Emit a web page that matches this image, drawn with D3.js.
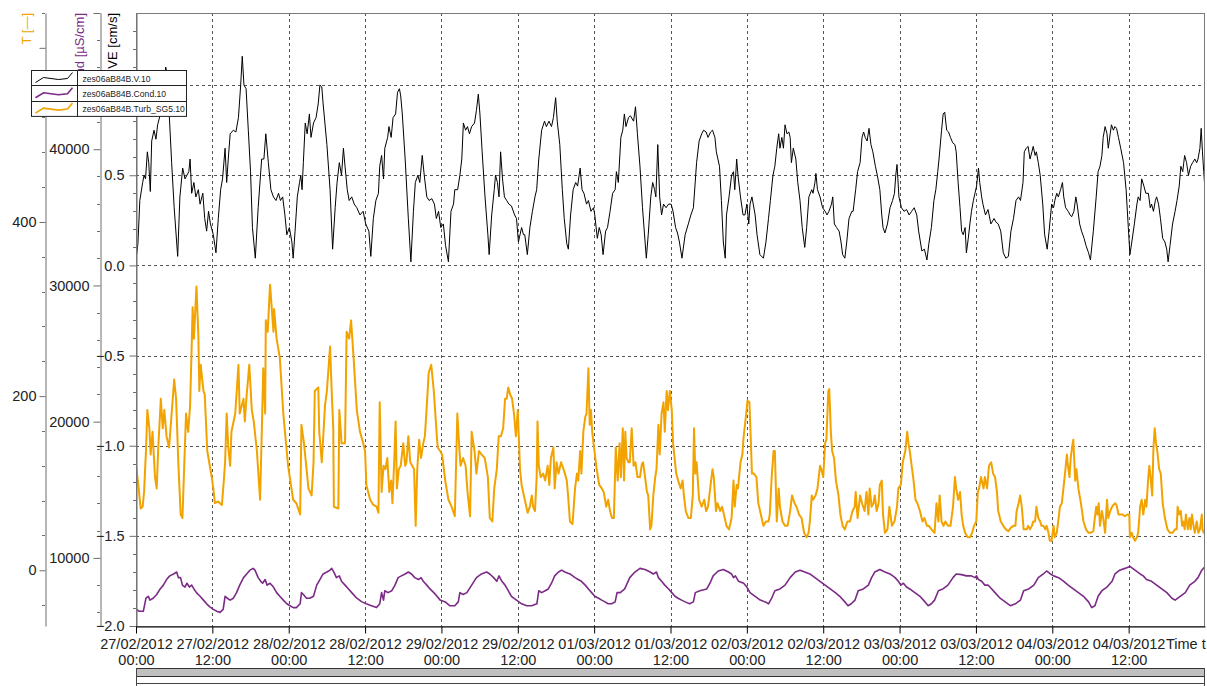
<!DOCTYPE html>
<html>
<head>
<meta charset="utf-8">
<script src="https://cdn.jsdelivr.net/npm/d3@7"></script>
<style>
body { margin: 0; background: #fff; }
svg { display: block; font-family: "Liberation Sans", Arial, sans-serif; }
</style>
</head>
<body>
<svg id="chart" width="1207" height="686"></svg>
<script>
const startTime = new Date(2012, 1, 27, 0, 0);
const endTime = new Date(2012, 2, 5, 0, 0);

// [hours since 27/02/2012 00:00, value]
const velocity = [[0,0.03],[0.3,0.12],[0.6,0.36],[1.05,0.46],[1.26,0.5],[1.5,0.48],[1.78,0.63],[2,0.57],[2.25,0.41],[2.46,0.69],[2.83,0.75],[3.14,0.7],[3.4,0.78],[3.77,0.83],[4.3,0.92],[4.66,1.1],[4.9,1.06],[5.24,0.83],[5.6,0.57],[6,0.32],[6.55,0.05],[6.9,0.38],[7.33,0.54],[7.7,0.48],[8,0.5],[8.3,0.52],[8.5,0.59],[8.75,0.4],[9.1,0.46],[9.4,0.38],[9.8,0.42],[10.06,0.34],[10.5,0.4],[10.8,0.26],[11.1,0.19],[11.4,0.3],[11.7,0.23],[12.15,0.17],[12.57,0.07],[12.94,0.26],[13.3,0.42],[13.6,0.48],[14,0.65],[14.25,0.46],[14.5,0.59],[14.8,0.73],[15.3,0.75],[15.7,0.74],[16.1,0.82],[16.45,1],[16.7,1.16],[16.97,1],[17.3,0.98],[17.65,0.75],[18,0.52],[18.3,0.21],[18.75,0.04],[19.2,0.32],[19.75,0.59],[20.1,0.59],[20.4,0.73],[20.8,0.57],[21.2,0.42],[21.6,0.38],[22,0.36],[22.4,0.4],[22.7,0.36],[23.05,0.38],[23.4,0.28],[23.7,0.17],[24.1,0.21],[24.5,0.13],[24.7,0.04],[25,0.19],[25.35,0.38],[25.7,0.46],[25.9,0.5],[26.1,0.42],[26.3,0.57],[26.6,0.79],[26.9,0.73],[27.25,0.84],[27.5,0.71],[27.9,0.79],[28.3,0.82],[28.65,0.9],[28.9,1],[29.2,0.99],[29.4,0.9],[30,0.67],[30.5,0.42],[30.9,0.09],[31.3,0.32],[31.6,0.46],[31.95,0.57],[32.3,0.5],[32.6,0.65],[32.85,0.55],[33.2,0.42],
[33.5,0.36],[33.9,0.38],[34.3,0.34],[34.7,0.32],[35.2,0.28],[35.7,0.3],[36.1,0.23],[36.6,0.19],[36.9,0.05],[37.3,0.26],[37.7,0.36],[38.1,0.4],[38.3,0.55],[38.6,0.61],[38.9,0.48],[39.1,0.65],[39.55,0.71],[39.75,0.77],[40.1,0.71],[40.4,0.82],[40.8,0.84],[41.1,0.96],[41.4,0.98],[41.6,0.94],[41.85,0.84],[42.3,0.59],[42.8,0.26],[43.2,0.02],[43.6,0.3],[43.9,0.46],[44.3,0.5],[44.6,0.46],[44.98,0.61],[45.3,0.5],[45.7,0.38],[46.05,0.36],[46.5,0.37],[46.9,0.34],[47.2,0.26],[47.55,0.3],[47.9,0.21],[48.3,0.23],[48.65,0.11],[49.1,0.02],[49.5,0.3],[49.9,0.34],[50.1,0.42],[50.55,0.42],[50.9,0.5],[51.2,0.59],[51.45,0.79],[51.8,0.75],[52.1,0.77],[52.4,0.73],[52.75,0.77],[53.2,0.79],[53.5,0.86],[53.8,0.95],[54.05,0.84],[54.4,0.63],[54.85,0.38],[55.3,0.17],[55.5,0.06],[55.9,0.28],[56.3,0.42],[56.5,0.5],[56.8,0.46],[57.05,0.38],[57.3,0.63],[57.6,0.48],[57.9,0.38],[58.25,0.36],[58.6,0.34],[59,0.33],[59.5,0.28],[59.8,0.26],[60.1,0.13],[60.35,0.17],[60.6,0.21],[60.9,0.17],[61.1,0.17],[61.5,0.06],[61.9,0.21],[62.3,0.3],[62.7,0.38],[62.97,0.42],[63.3,0.59],[63.75,0.75],[64.2,0.8],[64.5,0.77],[64.9,0.8],[65.3,0.77],[65.6,0.82],[65.95,0.93],[66.2,0.8],[66.6,0.67],[67,0.42],
[67.3,0.26],[67.7,0.12],[67.95,0.09],[68.3,0.28],[68.7,0.42],[69.1,0.46],[69.4,0.44],[69.8,0.54],[70.1,0.42],[70.4,0.4],[70.8,0.34],[71.1,0.36],[71.5,0.3],[71.9,0.32],[72.1,0.28],[72.5,0.15],[72.8,0.21],[73.1,0.17],[73.4,0.06],[73.8,0.19],[74.1,0.21],[74.5,0.3],[74.9,0.4],[75.3,0.42],[75.5,0.52],[75.8,0.46],[76.2,0.71],[76.5,0.75],[76.75,0.84],[77,0.77],[77.4,0.82],[77.7,0.83],[78.2,0.8],[78.5,0.88],[78.8,0.73],[79.2,0.55],[79.6,0.32],[80.2,0.04],[80.5,0.17],[80.9,0.38],[81.2,0.46],[81.5,0.42],[81.7,0.38],[82,0.67],[82.3,0.38],[82.6,0.28],[82.9,0.34],[83.3,0.32],[83.7,0.34],[84.1,0.34],[84.4,0.3],[84.8,0.21],[85.1,0.18],[85.4,0.13],[85.8,0.04],[86.3,0.17],[86.8,0.23],[87.2,0.28],[87.6,0.32],[88.1,0.57],[88.5,0.69],[88.9,0.73],[89.2,0.75],[89.6,0.74],[89.9,0.71],[90.3,0.74],[90.6,0.75],[90.99,0.71],[91.2,0.63],[91.7,0.55],[92,0.36],[92.3,0.13],[92.6,0.04],[92.8,0.28],[93.2,0.38],[93.6,0.5],[93.9,0.52],[94.1,0.42],[94.4,0.59],[94.6,0.5],[95,0.38],[95.4,0.28],[95.7,0.28],[96,0.34],[96.3,0.23],[96.5,0.34],[96.8,0.38],[97,0.34],[97.3,0.28],[97.6,0.17],[98.05,0.06],[98.6,0.04],[99,0.13],[99.4,0.26],[99.7,0.36],[100.1,0.5],[100.4,0.55],
[100.7,0.65],[101,0.73],[101.2,0.65],[101.5,0.71],[101.75,0.65],[102,0.78],[102.3,0.73],[102.6,0.74],[102.8,0.71],[103,0.57],[103.3,0.65],[103.7,0.59],[104,0.46],[104.35,0.36],[104.7,0.21],[105.1,0.1],[105.4,0.21],[105.75,0.38],[106.2,0.42],[106.4,0.4],[106.7,0.46],[106.85,0.51],[107.1,0.42],[107.5,0.38],[107.9,0.32],[108.3,0.3],[108.6,0.28],[108.9,0.3],[109.3,0.34],[109.5,0.38],[109.75,0.23],[110.1,0.21],[110.5,0.19],[110.8,0.13],[111.05,0.06],[111.4,0.04],[111.7,0.13],[112.05,0.26],[112.5,0.3],[112.7,0.3],[113.1,0.42],[113.4,0.52],[113.8,0.57],[114.1,0.71],[114.35,0.74],[114.6,0.71],[114.9,0.69],[115.2,0.76],[115.5,0.67],[115.8,0.63],[116.2,0.55],[116.5,0.5],[116.9,0.42],[117.2,0.28],[117.4,0.21],[117.7,0.18],[118.1,0.23],[118.5,0.32],[118.9,0.36],[119.2,0.4],[119.4,0.5],[119.6,0.56],[119.9,0.38],[120.3,0.32],[120.7,0.3],[121.1,0.31],[121.5,0.28],[121.9,0.3],[122.3,0.32],[122.7,0.28],[123,0.19],[123.5,0.08],[123.9,0.09],[124.3,0.03],[124.6,0.12],[125,0.21],[125.4,0.36],[125.7,0.42],[126,0.52],[126.2,0.59],[126.6,0.75],[126.85,0.84],[127.1,0.85],[127.4,0.75],[127.7,0.74],[128,0.71],[128.35,0.68],[128.7,0.67],[128.9,0.63],[129.2,0.46],[129.5,0.32],[129.75,0.19],[130,0.17],[130.3,0.21],[130.5,0.07],[130.8,0.15],[131.05,0.23],[131.3,0.3],[131.6,0.36],[131.85,0.4],[132.1,0.44],[132.4,0.54],[132.6,0.46],[132.9,0.38],[133.1,0.34],[133.5,0.28],[133.9,0.31],[134.35,0.23],
[134.85,0.26],[135.15,0.24],[135.5,0.23],[135.9,0.19],[136.3,0.07],[136.7,0.04],[137.1,0.05],[137.5,0.19],[137.9,0.26],[138.3,0.36],[138.7,0.38],[139,0.36],[139.4,0.46],[139.6,0.63],[139.9,0.65],[140.2,0.66],[140.5,0.59],[140.8,0.63],[141,0.66],[141.3,0.61],[141.5,0.63],[141.8,0.57],[142.1,0.5],[142.5,0.34],[142.8,0.17],[143.2,0.09],[143.5,0.19],[143.9,0.34],[144.2,0.32],[144.4,0.36],[144.7,0.4],[144.95,0.38],[145.3,0.42],[145.6,0.46],[145.8,0.38],[146.1,0.32],[146.5,0.3],[146.8,0.28],[147.05,0.27],[147.4,0.3],[147.7,0.38],[147.9,0.34],[148.3,0.23],[148.6,0.19],[149,0.15],[149.3,0.11],[149.7,0.07],[150,0.03],[150.45,0.19],[150.9,0.38],[151.2,0.52],[151.5,0.55],[151.8,0.61],[152,0.71],[152.3,0.77],[152.6,0.73],[152.8,0.65],[153.1,0.73],[153.3,0.78],[153.6,0.75],[153.85,0.77],[154.1,0.76],[154.4,0.71],[154.75,0.65],[155.2,0.57],[155.6,0.42],[155.95,0.21],[156.2,0.06],[156.5,0.13],[156.9,0.23],[157.3,0.34],[157.5,0.38],[157.8,0.36],[158.05,0.48],[158.4,0.44],[158.7,0.4],[159.1,0.4],[159.4,0.32],[159.6,0.34],[159.9,0.3],[160.2,0.36],[160.4,0.38],[160.7,0.34],[161,0.26],[161.35,0.15],[161.7,0.13],[161.99,0.09],[162.2,0.02],[162.5,0.11],[162.9,0.23],[163.3,0.3],[163.6,0.36],[163.95,0.44],[164.2,0.55],[164.5,0.52],[164.8,0.61],[165.1,0.57],[165.4,0.5],[165.75,0.55],[166.05,0.57],[166.4,0.59],[166.7,0.57],[166.9,0.59],[167.2,0.65],[167.4,0.76],[167.6,0.63],[167.8,0.52],[168,0.42]];

const turbidity = [[0,120],[0.37,98],[0.73,71],[1.05,73],[1.26,90],[1.57,137],[1.78,184],[2.1,163],[2.3,133],[2.6,159],[2.99,107],[3.25,94],[3.5,141],[3.9,197],[4.2,163],[4.45,184],[4.8,154],[5.2,141],[5.6,180],[6,219],[6.3,197],[6.65,124],[7.02,64],[7.3,60],[7.5,103],[7.86,180],[8.2,159],[8.5,189],[8.75,257],[8.9,302],[9.1,266],[9.5,326],[9.8,270],[9.95,206],[10.16,236],[10.6,206],[10.8,202],[11.2,137],[11.6,120],[11.9,107],[12.15,94],[12.4,77],[12.9,79],[13.5,75],[13.8,103],[14,124],[14.25,180],[14.5,141],[14.8,120],[15,159],[15.6,180],[16.1,236],[16.3,180],[16.9,197],[17.1,171],[17.4,202],[17.8,236],[18.2,184],[18.5,171],[19,137],[19.5,81],[19.75,154],[20,232],[20.3,180],[20.4,287],[20.7,274],[21.06,328],[21.6,274],[21.7,300],[22.1,266],[22.6,244],[23.15,180],[23.9,120],[24.7,81],[25.2,77],[25.8,64],[26,167],[26.4,146],[27.1,94],[27.6,86],[27.9,124],[28.1,206],[28.65,210],[28.8,159],[29.2,124],[29.7,189],[30,206],[30.5,257],[30.75,206],[31,163],[31.1,73],[31.8,71],[31.95,184],[32.3,146],[32.85,146],
[33.1,274],[33.5,266],[33.8,287],[34.2,244],[34.7,184],[35.2,159],[35.7,146],[36,137],[36.2,98],[36.8,81],[37.3,75],[37.8,73],[38.1,66],[38.3,193],[38.6,90],[38.9,120],[39.2,116],[39.5,129],[39.8,90],[40.1,103],[40.3,77],[40.6,129],[40.8,171],[41,94],[41.3,116],[41.6,120],[42,146],[42.3,120],[42.5,124],[42.8,154],[43.1,124],[43.4,120],[43.7,116],[43.95,51],[44.2,116],[44.5,150],[44.8,129],[45.15,146],[45.4,154],[45.7,189],[46,227],[46.4,236],[46.8,206],[47,184],[47.4,141],[47.8,137],[48.1,133],[48.6,103],[49.1,81],[49.6,73],[50.1,62],[50.5,180],[50.8,141],[51,120],[51.4,129],[51.8,120],[52.1,90],[52.5,62],[52.75,159],[53.2,137],[53.5,111],[53.9,137],[54.3,133],[54.8,129],[55.3,107],[55.6,60],[56,56],[56.3,94],[56.7,116],[57,154],[57.35,154],[57.7,163],[58,197],[58.25,197],[58.5,210],[58.8,202],[59.1,197],[59.4,180],[59.7,154],[60,184],[60.35,116],[60.6,98],[61.1,81],[61.55,66],[61.9,73],[62.2,86],[62.4,73],[62.7,68],[62.97,107],[63.1,171],[63.3,120],[63.6,107],[64,111],[64.3,103],[64.7,120],[64.95,98],[65.2,129],[65.6,141],[65.8,94],[66.1,124],[66.4,111],[66.8,124],
[67.2,116],[67.4,111],[67.7,103],[67.9,86],[68.2,56],[68.6,53],[69,94],[69.3,111],[69.5,103],[69.8,137],[70,111],[70.3,159],[70.6,176],[70.8,180],[71.1,232],[71.3,167],[71.5,184],[71.7,159],[71.9,146],[72.4,116],[72.8,98],[73.2,94],[73.5,90],[73.9,73],[74.2,81],[74.5,68],[74.8,60],[75.1,60],[75.4,141],[75.7,103],[76,146],[76.2,107],[76.5,163],[76.7,103],[76.9,159],[77.1,129],[77.4,124],[77.6,124],[77.9,163],[78.2,120],[78.5,124],[78.8,107],[79.2,107],[79.5,122],[79.7,124],[80,107],[80.3,90],[80.5,86],[80.8,47],[81,51],[81.3,86],[81.6,107],[81.8,116],[82.1,167],[82.3,133],[82.6,180],[82.9,193],[83.1,159],[83.4,206],[83.6,184],[83.9,206],[84.2,184],[84.4,146],[84.9,111],[85.2,103],[85.6,94],[85.9,103],[86.1,86],[86.4,68],[86.8,60],[87.2,60],[87.5,86],[87.7,163],[87.9,111],[88.1,124],[88.5,81],[88.9,73],[89.3,81],[89.6,68],[89.9,73],[90.3,98],[90.6,116],[90.8,107],[91.15,68],[91.4,77],[91.8,68],[92.1,73],[92.4,64],[92.8,51],[93.2,47],[93.6,60],[93.9,103],[94.1,73],[94.4,98],[94.6,94],[95,124],[95.3,133],[95.5,154],[95.9,180],[96.1,195],[96.4,193],[96.6,154],[96.8,111],[97.1,111],[97.5,107],[97.8,77],[98.2,64],[98.6,51],[99,56],[99.4,56],[99.6,64],[99.9,107],[100.2,137],[100.4,137],
[100.7,56],[101,94],[101.2,73],[101.6,56],[102,51],[102.4,51],[102.8,68],[103.1,86],[103.5,77],[103.8,73],[104.2,64],[104.6,60],[105,43],[105.4,38],[105.7,43],[105.9,56],[106.2,86],[106.4,81],[106.8,86],[107.1,94],[107.5,120],[107.7,116],[108,107],[108.3,146],[108.5,150],[108.8,206],[108.95,208],[109.2,159],[109.4,137],[109.7,129],[110,103],[110.4,86],[110.7,64],[111.05,51],[111.4,47],[111.8,56],[112.2,56],[112.6,68],[112.95,73],[113.1,90],[113.4,60],[113.8,86],[114.1,77],[114.5,68],[114.8,90],[115.1,64],[115.3,94],[115.6,73],[115.9,77],[116.1,86],[116.4,68],[116.7,77],[116.9,98],[117.2,103],[117.4,64],[117.7,43],[118.1,47],[118.4,73],[118.8,51],[119.2,56],[119.6,73],[119.8,94],[120.2,98],[120.5,124],[120.9,137],[121.2,159],[121.4,146],[121.6,137],[121.9,120],[122.2,103],[122.5,81],[122.8,77],[123.2,68],[123.6,56],[123.9,60],[124.3,51],[124.6,51],[125,47],[125.5,43],[125.8,77],[126.1,56],[126.3,86],[126.6,56],[126.9,51],[127.2,56],[127.6,51],[128,51],[128.4,73],[128.7,107],[128.9,94],[129.2,81],[129.5,90],[129.75,64],[130,51],[130.3,43],[130.7,38],[131.05,38],[131.4,43],[131.7,51],[132.05,56],[132.3,90],[132.5,94],[132.8,107],[133.2,94],[133.4,107],[133.75,94],[134.05,120],[134.4,124],
[134.7,111],[135,107],[135.3,90],[135.5,68],[135.9,56],[136.3,51],[136.7,47],[137.1,45],[137.5,49],[137.9,51],[138.2,51],[138.4,68],[138.7,77],[138.95,86],[139.2,73],[139.5,47],[139.7,47],[140,47],[140.2,51],[140.5,47],[140.8,51],[141,56],[141.3,56],[141.5,73],[141.8,60],[142.1,56],[142.3,51],[142.6,51],[142.9,47],[143.1,51],[143.4,43],[143.6,34],[143.9,34],[144.2,51],[144.4,38],[144.7,43],[145,60],[145.2,73],[145.5,77],[145.75,94],[146,111],[146.3,133],[146.4,124],[146.7,107],[146.9,129],[147.1,141],[147.3,150],[147.6,103],[147.8,116],[148.1,94],[148.5,77],[148.9,56],[149.3,47],[149.7,43],[150,43],[150.45,45],[150.9,73],[151.1,64],[151.3,77],[151.5,51],[151.8,68],[152,60],[152.3,43],[152.6,81],[152.8,60],[153.1,68],[153.4,73],[153.6,75],[153.9,77],[154.1,75],[154.4,64],[154.6,64],[155.05,64],[155.4,62],[155.8,64],[156.1,64],[156.2,38],[156.5,43],[156.7,38],[157,34],[157.3,38],[157.5,43],[157.8,73],[158.05,81],[158.3,64],[158.6,81],[158.8,73],[159.05,103],[159.25,120],[159.45,107],[159.7,86],[159.9,141],[160.1,163],[160.3,146],[160.5,137],[160.8,116],[161.05,111],[161.35,77],[161.7,60],[162.1,47],[162.5,43],[162.9,43],[163.3,47],[163.55,47],[163.7,73],[163.95,64],[164.2,68],[164.4,51],[164.6,56],[164.8,47],[165,64],[165.3,47],[165.55,60],[165.75,47],[165.95,64],[166.2,51],[166.4,43],[166.7,56],[166.95,43],[167.2,47],[167.5,64],[167.6,47],[167.8,43],[168,43]];

const conductivity = [[0,6220],[0.52,6080],[1.15,6080],[1.57,7040],[1.94,7180],[2.2,6900],[2.7,7040],[3.25,7310],[3.8,7720],[4.3,8000],[4.8,8410],[5.3,8680],[5.9,8820],[6.4,8960],[6.65,8550],[7,8550],[7.3,8000],[7.7,7860],[8,8140],[8.4,7860],[8.75,8000],[9.1,7720],[9.5,7450],[10.06,7180],[10.6,6900],[11.1,6630],[11.6,6410],[12.15,6220],[12.7,6080],[13.2,6000],[13.7,6220],[14,7180],[14.35,7040],[14.8,6900],[15.3,7040],[15.8,7450],[16.3,8000],[16.9,8550],[17.4,8820],[17.9,9100],[18.4,9230],[18.7,9100],[19.2,8550],[19.6,8280],[19.9,8140],[20.3,8410],[20.6,8000],[21.06,8140],[21.6,7860],[22.1,7450],[22.6,7180],[23.15,6900],[23.7,6630],[24.2,6490],[24.7,6350],[25.2,6350],[25.8,6630],[26,7450],[26.3,7310],[26.8,7040],[27.3,7040],[27.9,7180],[28.4,8000],[28.9,8410],[29.4,8820],[30,8960],[30.5,9100],[30.75,9230],[31.1,8960],[31.5,8550],[31.95,8680],[32.3,8280],[32.85,8000],
[33.4,7720],[33.9,7450],[34.7,7040],[35.5,6770],[36.2,6630],[37,6490],[37.8,6350],[38.3,6630],[38.6,7450],[38.9,6900],[39.1,7590],[39.6,7450],[40.2,7590],[40.7,8000],[41.2,8550],[41.7,8680],[42.3,8820],[42.8,8960],[43.3,8820],[43.8,8550],[44.4,8410],[44.8,8550],[45.15,8280],[45.7,8000],[46.2,7720],[46.8,7450],[47.3,7180],[47.8,6900],[48.6,6770],[49.3,6490],[50.1,6490],[50.65,6770],[50.9,7450],[51.4,7310],[52,7450],[52.75,8000],[53.5,8550],[54.3,8820],[55.1,8960],[55.6,8820],[56.2,8550],[56.7,8280],[57.05,8680],[57.5,8280],[58,8000],[58.5,7590],[59,7180],[59.8,6900],[60.6,6630],[61.4,6490],[62.2,6490],[63,6630],[63.3,7590],[63.75,7450],[64.3,7590],[64.8,7720],[65.3,8140],[65.8,8680],[66.4,8960],[66.9,9100],
[67.4,8960],[68.2,8820],[69,8550],[69.5,8410],[70,8280],[70.6,8000],[71.1,7720],[71.6,7450],[72.1,7180],[72.7,7040],[73.2,6900],[73.7,6770],[74.2,6630],[74.75,6630],[75.3,6770],[75.6,7450],[76.1,7450],[76.8,7720],[77.6,8550],[78.4,8960],[79.2,9230],[80,9150],[80.8,8960],[81.3,8820],[81.8,8960],[82.1,8550],[82.6,8280],[83.1,8000],[83.7,7720],[84.2,7450],[84.7,7180],[85.2,7040],[85.75,6900],[86.3,6770],[87,6630],[87.6,6770],[87.9,7450],[88.6,7590],[89.7,7720],[90.2,8140],[90.7,8680],[91.5,9040],[92.3,9150],[93.1,8960],[93.6,8820],[93.9,8550],[94.2,8680],[94.7,8280],[95.5,8140],[96,7860],[96.5,7450],[97.3,7180],[98.1,6900],[98.9,6770],[99.4,6630],[99.9,7040],[100.4,7590],
[101.2,7720],[102,8000],[102.8,8550],[103.6,8960],[104.35,9100],[105.1,8960],[105.9,8820],[106.7,8550],[107.5,8280],[108.3,8000],[109.1,7720],[109.9,7450],[110.6,7180],[111.4,6770],[111.9,6490],[112.4,6630],[113,6900],[113.5,7590],[114.3,7720],[115.1,8000],[115.6,8550],[116.1,8960],[116.9,9150],[117.7,8960],[118.5,8820],[119.3,8550],[119.8,8280],[120.2,8000],[120.6,8140],[121.1,7860],[121.6,7720],[122.4,7450],[123.2,7180],[124,6770],[124.5,6490],[125,6630],[125.5,6900],[126.1,7590],[126.8,7720],[127.6,8000],[128.4,8550],[128.9,8820],[129.75,8770],[130.5,8680],[131.3,8680],[131.85,8550],[132.1,8680],[132.4,8410],[132.9,8280],[133.4,8000],[133.9,8000],
[134.2,7860],[135,7450],[135.8,7040],[136.6,6770],[137.4,6490],[138.2,6630],[139,6900],[139.5,7590],[140.3,7720],[141.1,8000],[141.8,8550],[142.6,8820],[143.1,9040],[143.7,8820],[144.2,8680],[145,8550],[145.8,8280],[146.5,8000],[147.3,7720],[148.1,7450],[148.9,7180],[149.7,6770],[150.2,6350],[150.7,6490],[151.2,7180],[151.8,7590],[152.6,7860],[153.4,8280],[153.85,8820],[154.6,9100],[155.4,9230],[156.2,9370],[157,9100],[157.8,8820],[158.3,8680],[158.8,8410],[159.6,8280],[160.4,8000],[161.2,7720],[162,7450],[162.8,7040],[163.3,6900],[164.1,7180],[164.9,7450],[165.6,8000],[166.4,8280],[166.9,8550],[167.5,9100],[168,9370]];

const seriesNames = ["zes06aB84B.V.10", "zes06aB84B.Cond.10", "zes06aB84B.Turb_SG5.10"];
const seriesColors = ["#000000", "#7b2a86", "#f2a300"];
const turbTicks = [0, 200, 400, 600];
const condTicks = [10000, 20000, 30000, 40000, 50000];
const veTicks = [-2, -1.5, -1, -0.5, 0, 0.5, 1];
const veGrid = [-1.5, -1, -0.5, 0, 0.5, 1];

const chart = d3.select("#chart");
const margin = {left: 136, right: 2, top: 13, bottom: 60};
const width = 1207, height = 686;
const plotBottom = height - margin.bottom;
const plotRight = width - margin.right;
const axisGray = "#6e6e6e";
const textDark = "#222";

const x = d3.scaleTime().domain([startTime, endTime]).range([margin.left, plotRight]);
const yVE = d3.scaleLinear().domain([-2, 1.4]).range([plotBottom, margin.top]);
const yCond = d3.scaleLinear().domain([5000, 50000]).range([plotBottom, margin.top]);
const yTurb = d3.scaleLinear().domain([-64, 640]).range([plotBottom, margin.top]);
const toTime = (h) => d3.timeMinute.offset(startTime, Math.round(h * 60));
const halfDays = d3.timeHour.every(12).range(startTime, endTime);

const defs = chart.append("defs");
defs.append("clipPath").attr("id", "plotclip")
  .append("rect").attr("x", margin.left).attr("y", margin.top)
  .attr("width", plotRight - margin.left).attr("height", plotBottom - margin.top);
// titles end where the legend box starts
defs.append("clipPath").attr("id", "titleclip")
  .append("rect").attr("x", 0).attr("y", 0).attr("width", margin.left).attr("height", 70);

// dashed grid
const grid = chart.append("g").attr("stroke", "#555").attr("stroke-dasharray", "3,3").attr("stroke-width", 1);
grid.selectAll("line.v").data(halfDays.slice(1)).enter().append("line")
  .attr("x1", d => Math.round(x(d)) + 0.5).attr("x2", d => Math.round(x(d)) + 0.5)
  .attr("y1", margin.top).attr("y2", plotBottom);
grid.selectAll("line.h").data(veGrid).enter().append("line")
  .attr("x1", margin.left).attr("x2", plotRight)
  .attr("y1", d => Math.round(yVE(d)) + 0.5).attr("y2", d => Math.round(yVE(d)) + 0.5);

// curves
const curves = chart.append("g").attr("clip-path", "url(#plotclip)").attr("fill", "none");
const addCurve = (data, yScale, color, w) => {
  curves.append("path").datum(data)
    .attr("stroke", color).attr("stroke-width", w).attr("stroke-linejoin", "round")
    .attr("d", d3.line().x(d => x(toTime(d[0]))).y(d => yScale(d[1])));
};
addCurve(conductivity, yCond, seriesColors[1], 1.6);
addCurve(turbidity, yTurb, seriesColors[2], 2);
addCurve(velocity, yVE, seriesColors[0], 1);

// frame
chart.append("rect").attr("x", margin.left + 0.5).attr("y", margin.top + 0.5)
  .attr("width", plotRight - margin.left - 1).attr("height", plotBottom - margin.top)
  .attr("fill", "none").attr("stroke", "#7a7a7a");

// left axes
const styleAxis = (g) => {
  g.select(".domain").attr("stroke", axisGray);
  g.selectAll(".tick line").attr("stroke", axisGray);
  g.selectAll(".tick text").attr("fill", textDark).style("font-size", "14.5px")
    .style("font-family", "'Liberation Sans', Arial, sans-serif");
};
const minorTicks = (pos, scale, values, len) => {
  chart.append("g").selectAll("line").data(values).enter().append("line")
    .attr("x1", pos - len).attr("x2", pos)
    .attr("y1", d => Math.round(scale(d)) + 0.5).attr("y2", d => Math.round(scale(d)) + 0.5)
    .attr("stroke", axisGray);
};

minorTicks(45, yTurb, d3.range(-40, 641, 40).filter(v => v % 200 !== 0), 3);
chart.append("g").attr("transform", "translate(45.5,0)")
  .call(d3.axisLeft(yTurb).tickValues(turbTicks).tickSize(6).tickSizeOuter(0).tickPadding(3)
    .tickFormat(d => d >= 600 ? "" : d))
  .call(styleAxis);

minorTicks(100, yCond, d3.range(6000, 50001, 2000).filter(v => v % 10000 !== 0), 3);
chart.append("g").attr("transform", "translate(100.5,0)")
  .call(d3.axisLeft(yCond).tickValues(condTicks).tickSize(7).tickSizeOuter(0).tickPadding(4)
    .tickFormat(d => d >= 50000 ? "" : d))
  .call(styleAxis);

// the 1.0 label sits under the legend box in the original, so it is left blank
minorTicks(136, yVE, d3.range(-19, 14, 1).filter(v => v % 5 !== 0).map(v => v / 10), 3);
chart.append("g").attr("transform", "translate(136.5,0)")
  .call(d3.axisLeft(yVE).tickValues(veTicks).tickSize(7).tickSizeOuter(0).tickPadding(5)
    .tickFormat(d => d >= 1 ? "" : d3.format(".1f")(d)))
  .call(styleAxis);

// x axis with two-line labels
const dateFmt = d3.timeFormat("%d/%m/%Y");
const hourFmt = d3.timeFormat("%H:%M");
const xAxis = chart.append("g").attr("transform", `translate(0,${plotBottom + 0.5})`)
  .call(d3.axisBottom(x).tickValues(halfDays).tickSize(7).tickSizeOuter(0).tickFormat(""));
xAxis.select(".domain").attr("stroke", "#000");
xAxis.selectAll(".tick line").attr("stroke", "#000");
xAxis.selectAll(".tick").append("text")
  .attr("fill", textDark).attr("text-anchor", "middle").style("font-size", "14.5px")
  .each(function(d) {
    const t = d3.select(this);
    t.append("tspan").attr("x", 0).attr("y", 22).text(dateFmt(d));
    t.append("tspan").attr("x", 0).attr("y", 38.5).text(hourFmt(d));
  });
chart.append("text").attr("x", 1166).attr("y", plotBottom + 22.5)
  .attr("fill", textDark).style("font-size", "14.5px").text("Time t");

// axis titles
const titles = [
  {text: "T [—]", x: 31, color: seriesColors[2]},
  {text: "Cond [µS/cm]", x: 84, color: seriesColors[1]},
  {text: "VE [cm/s]", x: 117, color: seriesColors[0]}
];
chart.append("g").attr("clip-path", "url(#titleclip)")
  .selectAll("text").data(titles).enter().append("text")
  .attr("transform", d => `translate(${d.x},${margin.top}) rotate(-90)`)
  .attr("text-anchor", "end").attr("fill", d => d.color)
  .style("font-size", "13px").text(d => d.text);

// scroll bar under the time axis
const scroll = chart.append("g");
scroll.append("rect").attr("x", margin.left + 0.5).attr("y", 668.5)
  .attr("width", plotRight - margin.left - 1).attr("height", 8)
  .attr("fill", "#c0c0c0").attr("stroke", "#333");
scroll.append("line").attr("x1", margin.left).attr("x2", plotRight)
  .attr("y1", 683.5).attr("y2", 683.5).attr("stroke", "#444");
scroll.selectAll("line.side").data([margin.left + 0.5, plotRight - 0.5]).enter().append("line")
  .attr("x1", d => d).attr("x2", d => d).attr("y1", 668).attr("y2", 686).attr("stroke", "#444");

// legend
const legend = chart.append("g").attr("transform", "translate(31.5,70.5)");
const rowH = 15.3;
legend.append("rect").attr("width", 155).attr("height", rowH * 3)
  .attr("fill", "#fff").attr("stroke", "#222");
legend.append("line").attr("x1", 46).attr("x2", 46).attr("y1", 0).attr("y2", rowH * 3).attr("stroke", "#222");
const sample = [[4, 12], [12, 7], [27, 9], [36, 8], [41, 2]];
seriesNames.forEach((name, i) => {
  const top = i * rowH;
  if (i > 0) {
    legend.append("line").attr("x1", 0).attr("x2", 155)
      .attr("y1", Math.round(top)).attr("y2", Math.round(top)).attr("stroke", "#222");
  }
  legend.append("path").attr("fill", "none").attr("stroke", seriesColors[i])
    .attr("stroke-width", i === 0 ? 1 : 1.6)
    .attr("d", d3.line()(sample.map(p => [p[0], top + p[1]])));
  legend.append("text").attr("x", 51).attr("y", top + 11)
    .attr("fill", textDark).style("font-size", "8.6px").text(name);
});
</script>
</body>
</html>
